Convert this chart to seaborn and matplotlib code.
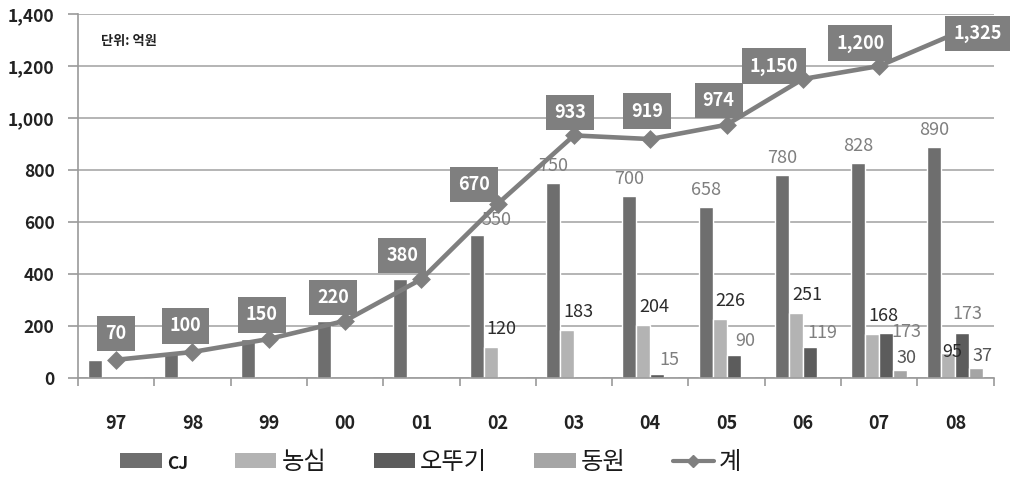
import numpy as np
import pandas as pd
import seaborn as sns
import matplotlib.pyplot as plt
from matplotlib.patches import Patch
from matplotlib.lines import Line2D

years = ['97', '98', '99', '00', '01', '02', '03', '04', '05', '06', '07', '08']
companies = ['CJ', '농심', '오뚜기', '동원']
cj = [70, 100, 150, 220, 380, 550, 750, 700, 658, 780, 828, 890]
nongshim = [0, 0, 0, 0, 0, 120, 183, 204, 226, 251, 168, 95]
ottogi = [0, 0, 0, 0, 0, 0, 0, 15, 90, 119, 173, 173]
dongwon = [0, 0, 0, 0, 0, 0, 0, 0, 0, 0, 30, 37]
total = [70, 100, 150, 220, 380, 670, 933, 919, 974, 1150, 1200, 1325]
unit_note = '단위: 억원'

sns.set_theme(style='white')
plt.rcParams['font.family'] = ['Noto Sans CJK KR', 'DejaVu Sans']

colors = {'CJ': '#6e6e6e', '농심': '#b3b3b3', '오뚜기': '#5c5c5c', '동원': '#a5a5a5'}
label_colors = {'CJ': '#7f7f7f', '농심': '#2b2b2b', '오뚜기': '#7f7f7f', '동원': '#555555'}
# label nudges in pixels (dx, dy) per series
label_offsets = {'CJ': (0, 8), '농심': (11, 9), '오뚜기': (12, 5), '동원': (6, 3)}
label_special = {('CJ', 5): (20, 6), ('오뚜기', 10): (20, -8), ('농심', 11): (4, -8),
                 ('오뚜기', 11): (5, 10)}
box_dx = [0, -7, -7, -12, -19, -24, -4, -3, -8, -29, -19, 22]
box_dy = [26, 26, 24, 23, 24, 19, 23, 28, 24, 13, 23, 0]
line_color = '#7f7f7f'

df = pd.DataFrame({
    'year': years * 4,
    'company': np.repeat(companies, len(years)),
    'value': cj + nongshim + ottogi + dongwon,
})

fig = plt.figure(figsize=(10.16, 4.83), dpi=100)
ax = fig.add_axes([0.0768, 0.2174, 0.9012, 0.7536])

sns.barplot(data=df, x='year', y='value', hue='company', hue_order=companies,
            order=years, palette=colors, width=0.734, saturation=1,
            legend=False, ax=ax, zorder=2)

sns.pointplot(x=years, y=total, order=years, color=line_color, markers='D',
              markersize=7, linewidth=3.3, errorbar=None, ax=ax, zorder=4)

ax.set_xlim(-0.5, len(years) - 0.5)
ax.set_ylim(0, 1400)
ax.set_xlabel('')
ax.set_ylabel('')

# bar value labels
for comp, cont in zip(companies, ax.containers):
    for i, rect in enumerate(cont.patches):
        v = rect.get_height()
        if v == 0 or (comp == 'CJ' and v == total[i]):
            continue
        dx, dy = label_special.get((comp, i), label_offsets[comp])
        ax.annotate(f'{int(v):,}', xy=(rect.get_x() + rect.get_width() / 2, v),
                    xytext=(dx, dy), textcoords='offset pixels', ha='center',
                    va='bottom', fontsize=13, color=label_colors[comp], zorder=5)

# total labels in boxes
for i, v in enumerate(total):
    ax.annotate(f'{v:,}', xy=(i, v), xytext=(box_dx[i], box_dy[i]),
                textcoords='offset pixels', ha='center', va='center',
                fontsize=13, fontweight='bold', color='white', zorder=6,
                bbox=dict(boxstyle='square,pad=0.45', fc='#7f7f7f', ec='none'))

ax.text(0.025, 0.925, unit_note, transform=ax.transAxes, fontsize=9.5,
        fontweight='bold', color='#222222', ha='left', va='center')

# axes styling
ax.yaxis.grid(True, color='#a8a8a8', linewidth=1.2)
ax.set_axisbelow(True)
for s in ['top', 'right']:
    ax.spines[s].set_visible(False)
for s in ['left', 'bottom']:
    ax.spines[s].set_color('#9a9a9a')
    ax.spines[s].set_linewidth(1.2)

ax.set_yticks(range(0, 1401, 200))
ax.set_yticklabels([f'{t:,}' for t in range(0, 1401, 200)], fontsize=12.5,
                   fontweight='bold', color='#222222')
ax.tick_params(axis='y', length=7, width=1.2, color='#9a9a9a', pad=10, left=True)

ax.set_xticks(np.arange(-0.5, len(years), 1))
ax.set_xticklabels([''] * (len(years) + 1))
ax.set_xticks(range(len(years)), labels=years, minor=True)
ax.tick_params(axis='x', which='major', length=6, width=1.2, color='#9a9a9a',
               bottom=True, direction='out')
ax.tick_params(axis='x', which='minor', length=0, pad=26, labelsize=13,
               labelcolor='#222222')
for t in ax.get_xticklabels(minor=True):
    t.set_fontweight('bold')

handles = [Patch(facecolor=colors[c], edgecolor='none') for c in companies]
handles.append(Line2D([], [], color=line_color, lw=3, marker='D', markersize=6))
leg = fig.legend(handles, companies + ['계'], loc='center',
                 bbox_to_anchor=(0.424, 0.043), ncol=5, frameon=False,
                 fontsize=17.5, handlelength=1.7, handleheight=0.55,
                 handletextpad=0.2, columnspacing=1.95)
leg.get_texts()[0].set_fontsize(12.5)
leg.get_texts()[0].set_fontweight('bold')
for t in leg.get_texts():
    t.set_color('#1a1a1a')

fig.savefig('out.png', dpi=100)
